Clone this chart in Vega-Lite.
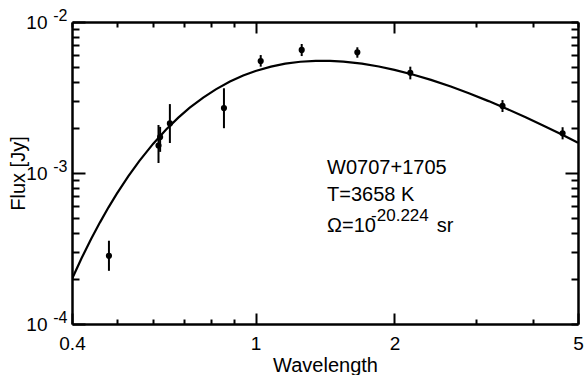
{
  "$schema": "https://vega.github.io/schema/vega-lite/v6.json",
  "width": 506,
  "height": 302,
  "autosize": "none",
  "padding": {"left": 72, "top": 22, "right": 6, "bottom": 51},
  "background": "white",
  "config": {
    "view": {"stroke": null},
    "font": "Liberation Sans",
    "axis": {
      "grid": false,
      "domainColor": "black",
      "domainWidth": 2.5,
      "tickColor": "black",
      "tickWidth": 2,
      "labelColor": "black",
      "labelFont": "Liberation Sans",
      "labelFontSize": 19,
      "labelFlush": false,
      "labelOverlap": false,
      "titleFont": "Liberation Sans",
      "titleFontSize": 20,
      "titleFontWeight": "normal",
      "titleColor": "black"
    }
  },
  "datasets": {
    "curve": [
      {"lam": 0.40, "flux": 0.00019877},
      {"lam": 0.42, "flux": 0.0002743},
      {"lam": 0.44, "flux": 0.0003651},
      {"lam": 0.46, "flux": 0.0004713},
      {"lam": 0.48, "flux": 0.0005925},
      {"lam": 0.50, "flux": 0.0007276},
      {"lam": 0.53, "flux": 0.0009536},
      {"lam": 0.56, "flux": 0.0012037},
      {"lam": 0.60, "flux": 0.001564},
      {"lam": 0.64, "flux": 0.0019425},
      {"lam": 0.68, "flux": 0.002327},
      {"lam": 0.72, "flux": 0.0027064},
      {"lam": 0.77, "flux": 0.0031606},
      {"lam": 0.82, "flux": 0.003581},
      {"lam": 0.88, "flux": 0.0040314},
      {"lam": 0.94, "flux": 0.0044166},
      {"lam": 1.00, "flux": 0.0047363},
      {"lam": 1.08, "flux": 0.0050656},
      {"lam": 1.16, "flux": 0.0052963},
      {"lam": 1.25, "flux": 0.0054556},
      {"lam": 1.35, "flux": 0.005533},
      {"lam": 1.45, "flux": 0.0055296},
      {"lam": 1.55, "flux": 0.0054671},
      {"lam": 1.70, "flux": 0.0052979},
      {"lam": 1.85, "flux": 0.005074},
      {"lam": 2.00, "flux": 0.0048231},
      {"lam": 2.20, "flux": 0.0044757},
      {"lam": 2.40, "flux": 0.0041347},
      {"lam": 2.65, "flux": 0.0037356},
      {"lam": 2.90, "flux": 0.0033743},
      {"lam": 3.20, "flux": 0.0029928},
      {"lam": 3.50, "flux": 0.0026639},
      {"lam": 3.85, "flux": 0.0023378},
      {"lam": 4.20, "flux": 0.002064},
      {"lam": 4.60, "flux": 0.0018029},
      {"lam": 5.00, "flux": 0.0015863}
    ],
    "obs": [
      {"lam": 0.481, "flux": 0.000283, "lo": 0.000225, "hi": 0.000356},
      {"lam": 0.616, "flux": 0.00152, "lo": 0.001165, "hi": 0.00208},
      {"lam": 0.621, "flux": 0.00173, "lo": 0.00138, "hi": 0.00202},
      {"lam": 0.652, "flux": 0.00213, "lo": 0.00158, "hi": 0.00286},
      {"lam": 0.854, "flux": 0.00269, "lo": 0.00198, "hi": 0.00364},
      {"lam": 1.026, "flux": 0.00552, "lo": 0.00506, "hi": 0.00604},
      {"lam": 1.259, "flux": 0.00653, "lo": 0.00595, "hi": 0.00715},
      {"lam": 1.662, "flux": 0.0063, "lo": 0.0058, "hi": 0.0068},
      {"lam": 2.165, "flux": 0.00461, "lo": 0.00417, "hi": 0.00506},
      {"lam": 3.43, "flux": 0.00278, "lo": 0.002535, "hi": 0.00304},
      {"lam": 4.63, "flux": 0.00183, "lo": 0.00167, "hi": 0.00201}
    ]
  },
  "layer": [
    {
      "data": {"name": "curve"},
      "mark": {"type": "line", "color": "black", "strokeWidth": 2.2, "clip": true},
      "encoding": {
        "x": {
          "field": "lam", "type": "quantitative",
          "scale": {"type": "log", "domain": [0.4, 5], "nice": false},
          "axis": {
            "orient": "bottom",
            "values": [0.4, 0.5, 0.6, 0.7, 0.8, 0.9, 1, 2, 3, 4, 5],
            "labelExpr": "datum.value == 0.4 ? '0.4' : datum.value == 1 ? '1' : datum.value == 2 ? '2' : datum.value == 5 ? '5' : ''",
            "tickSize": {"condition": {"test": "datum.value == 0.4 || datum.value == 1 || datum.value == 2 || datum.value == 5", "value": -11}, "value": -5},
            "labelPadding": 21,
            "title": "Wavelength",
            "titleX": 253,
            "titleY": 47,
            "titleBaseline": "alphabetic",
            "titleAlign": "center"
          }
        },
        "y": {
          "field": "flux", "type": "quantitative",
          "scale": {"type": "log", "domain": [0.0001, 0.01], "nice": false},
          "axis": {
            "orient": "left",
            "values": [0.0001, 0.0002, 0.0003, 0.0004, 0.0005, 0.0006, 0.0007, 0.0008, 0.0009, 0.001, 0.002, 0.003, 0.004, 0.005, 0.006, 0.007, 0.008, 0.009, 0.01],
            "labelExpr": "datum.value == 0.01 || datum.value == 0.001 || datum.value == 0.0001 ? '10' : ''",
            "tickSize": {"condition": {"test": "datum.value == 0.01 || datum.value == 0.001 || datum.value == 0.0001", "value": -13}, "value": -7},
            "labelPadding": 38,
            "labelFontSize": 19,
            "title": "Flux [Jy]",
            "titleAngle": -90,
            "titleX": -48,
            "titleY": 151,
            "titleBaseline": "alphabetic",
            "titleAlign": "center"
          }
        }
      }
    },
    {
      "data": {"name": "obs"},
      "mark": {"type": "rule", "color": "black", "strokeWidth": 2},
      "encoding": {
        "x": {"field": "lam", "type": "quantitative", "scale": {"type": "log", "domain": [0.4, 5], "nice": false}, "axis": null},
        "y": {
          "field": "lo", "type": "quantitative",
          "scale": {"type": "log", "domain": [0.0001, 0.01], "nice": false},
          "axis": {
            "orient": "left",
            "values": [0.0001, 0.001, 0.01],
            "labelExpr": "datum.value == 0.01 ? '-2' : datum.value == 0.001 ? '-3' : '-4'",
            "ticks": false,
            "domain": false,
            "labelPadding": 5,
            "labelFontSize": 16,
            "labelOffset": -7,
            "title": null
          }
        },
        "y2": {"field": "hi"}
      }
    },
    {
      "data": {"name": "obs"},
      "mark": {"type": "circle", "color": "black", "opacity": 1, "size": 38},
      "encoding": {
        "x": {
          "field": "lam", "type": "quantitative",
          "scale": {"type": "log", "domain": [0.4, 5], "nice": false},
          "axis": {
            "orient": "top",
            "values": [0.4, 0.5, 0.6, 0.7, 0.8, 0.9, 1, 2, 3, 4, 5],
            "labels": false,
            "title": null,
            "tickSize": {"condition": {"test": "datum.value == 1 || datum.value == 2", "value": -11}, "value": -5}
          }
        },
        "y": {
          "field": "flux", "type": "quantitative",
          "scale": {"type": "log", "domain": [0.0001, 0.01], "nice": false},
          "axis": {
            "orient": "right",
            "values": [0.0001, 0.0002, 0.0003, 0.0004, 0.0005, 0.0006, 0.0007, 0.0008, 0.0009, 0.001, 0.002, 0.003, 0.004, 0.005, 0.006, 0.007, 0.008, 0.009, 0.01],
            "labels": false,
            "title": null,
            "tickSize": {"condition": {"test": "datum.value == 0.001", "value": -13}, "value": -7}
          }
        }
      }
    },
    {
      "data": {"values": [{}]},
      "mark": {"type": "text", "text": "W0707+1705", "align": "left", "baseline": "alphabetic", "fontSize": 20, "font": "Liberation Sans", "color": "black"},
      "encoding": {
        "x": {"datum": 1.429, "scale": {"type": "log", "domain": [0.4, 5], "nice": false}, "axis": null},
        "y": {"datum": 0.000985, "scale": {"type": "log", "domain": [0.0001, 0.01], "nice": false}, "axis": null}
      }
    },
    {
      "data": {"values": [{}]},
      "mark": {"type": "text", "text": "T=3658 K", "align": "left", "baseline": "alphabetic", "fontSize": 20, "font": "Liberation Sans", "color": "black"},
      "encoding": {
        "x": {"datum": 1.429, "scale": {"type": "log", "domain": [0.4, 5], "nice": false}, "axis": null},
        "y": {"datum": 0.000656, "scale": {"type": "log", "domain": [0.0001, 0.01], "nice": false}, "axis": null}
      }
    },
    {
      "data": {"values": [{}]},
      "mark": {"type": "text", "text": "Ω=10", "align": "left", "baseline": "alphabetic", "fontSize": 20, "font": "Liberation Sans", "color": "black"},
      "encoding": {
        "x": {"datum": 1.429, "scale": {"type": "log", "domain": [0.4, 5], "nice": false}, "axis": null},
        "y": {"datum": 0.000409, "scale": {"type": "log", "domain": [0.0001, 0.01], "nice": false}, "axis": null}
      }
    },
    {
      "data": {"values": [{}]},
      "mark": {"type": "text", "text": "-20.224", "align": "left", "baseline": "alphabetic", "fontSize": 17, "font": "Liberation Sans", "color": "black"},
      "encoding": {
        "x": {"datum": 1.78, "scale": {"type": "log", "domain": [0.4, 5], "nice": false}, "axis": null},
        "y": {"datum": 0.000483, "scale": {"type": "log", "domain": [0.0001, 0.01], "nice": false}, "axis": null}
      }
    },
    {
      "data": {"values": [{}]},
      "mark": {"type": "text", "text": "sr", "align": "left", "baseline": "alphabetic", "fontSize": 20, "font": "Liberation Sans", "color": "black"},
      "encoding": {
        "x": {"datum": 2.47, "scale": {"type": "log", "domain": [0.4, 5], "nice": false}, "axis": null},
        "y": {"datum": 0.000409, "scale": {"type": "log", "domain": [0.0001, 0.01], "nice": false}, "axis": null}
      }
    }
  ],
  "resolve": {"axis": {"x": "independent", "y": "independent"}}
}
